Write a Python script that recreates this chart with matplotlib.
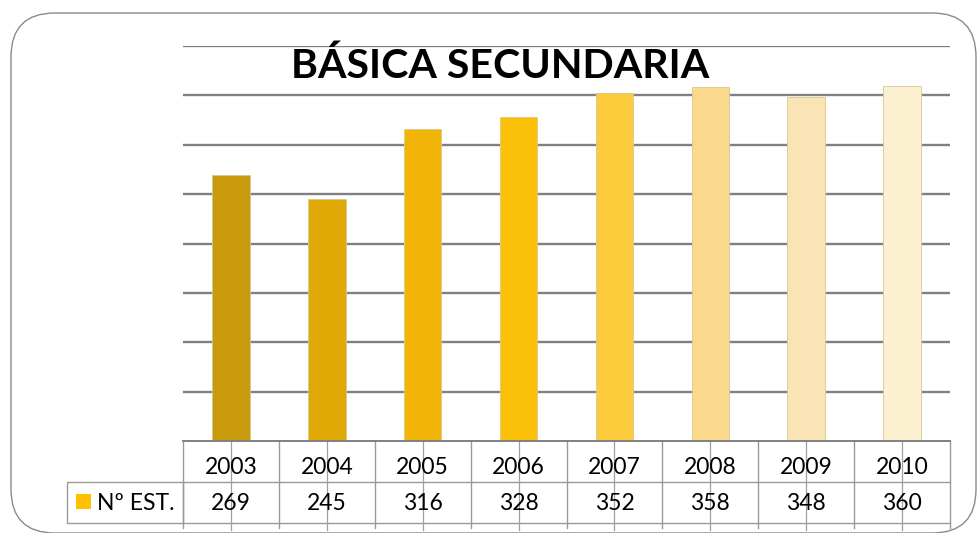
import matplotlib
matplotlib.use("Agg")
import matplotlib.pyplot as plt
from matplotlib.patches import FancyBboxPatch, Rectangle
import matplotlib.transforms as mtransforms

years = ["2003", "2004", "2005", "2006", "2007", "2008", "2009", "2010"]
values = [269, 245, 316, 328, 352, 358, 348, 360]
bar_colors = ["#C99A0C", "#E1A905", "#F2B406", "#FAC108", "#FCCB3C", "#FAD98C", "#FAE3B4", "#FBF0D0"]
series_name = "Nº EST."
legend_color = "#FFC000"
title = "BÁSICA SECUNDARIA"

W, H = 977, 533
fig = plt.figure(figsize=(W / 100, H / 100), dpi=100)
plt.rcParams['font.family'] = ['Lato', 'DejaVu Sans']

def fx(px):
    return px / W

def fy(py):
    return 1 - py / H

# outer rounded frame
frame = FancyBboxPatch((fx(11), fy(533)), fx(965), (533 - 13) / H,
                       boxstyle="round,pad=0,rounding_size=0.045",
                       transform=fig.transFigure, fill=False,
                       edgecolor="#8a8a8a", linewidth=1.0,
                       mutation_aspect=W / H)
fig.patches.append(frame)

ax_l, ax_r, ax_t, ax_b = 183, 950, 46, 441
ax = fig.add_axes([fx(ax_l), fy(ax_b), fx(ax_r - ax_l), (ax_b - ax_t) / H])
n = len(years)
xs = list(range(n))
ax.set_xlim(-0.5, n - 0.5)
ax.set_ylim(0, 400)
for v in range(50, 401, 50):
    ax.axhline(v, color="#808080", linewidth=1.7, zorder=1)
ax.bar(xs, values, width=0.39, color=bar_colors, edgecolor="#d8c890",
       linewidth=0.6, zorder=3)
for s in ax.spines.values():
    s.set_visible(False)
ax.set_xticks([])
ax.set_yticks([])

# title
fig.text(fx(500), fy(66), title, ha="center", va="center",
         fontsize=29.6, fontweight="bold", color="black")

axh = ax_b - ax_t
def ya(py):
    return (ax_b - py) / axh

trans = mtransforms.blended_transform_factory(ax.transData, ax.transAxes)
line_kw = dict(color="#9a9a9a", linewidth=1.0, clip_on=False, transform=trans)

row1_bot = 482
row2_bot = 523
ax.plot([-0.5, n - 0.5], [0, 0], color="#808080", linewidth=1.4,
        clip_on=False, transform=trans, zorder=4)
ax.plot([-0.5, n - 0.5], [ya(row1_bot)] * 2, **line_kw)
ax.plot([-0.5, n - 0.5], [ya(row2_bot)] * 2, **line_kw)
for i in range(n + 1):
    ax.plot([i - 0.5, i - 0.5], [0, ya(528)], **line_kw)
for i in range(n):
    ax.plot([i, i], [ya(437), ya(530)], color="#a0a0a0", linewidth=0.9,
            clip_on=False, transform=trans)
    ax.text(i, ya(467), years[i], ha="center", va="center", fontsize=16.5,
            transform=trans, clip_on=False)
    ax.text(i, ya(503), str(values[i]), ha="center", va="center",
            fontsize=16.5, transform=trans, clip_on=False)

# legend cell
lc_l = 67
fig.add_artist(Rectangle((fx(lc_l), fy(row2_bot)), fx(ax_l - lc_l),
                         (row2_bot - row1_bot) / H, transform=fig.transFigure,
                         fill=False, edgecolor="#9a9a9a", linewidth=1.0))
fig.add_artist(Rectangle((fx(76), fy(509)), fx(15), 15 / H,
                         transform=fig.transFigure, facecolor=legend_color,
                         edgecolor="none"))
fig.text(fx(97), fy(503), series_name, ha="left", va="center", fontsize=16.5)

fig.savefig("out.png", dpi=100)
